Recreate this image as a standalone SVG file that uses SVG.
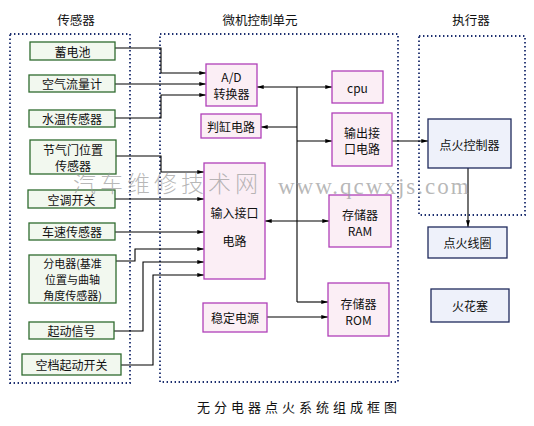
<svg xmlns="http://www.w3.org/2000/svg" width="534" height="426" viewBox="0 0 534 426">
<defs>
<marker id="ah" viewBox="0 0 10 6" refX="10" refY="3" markerWidth="7" markerHeight="4" markerUnits="userSpaceOnUse" orient="auto-start-reverse">
<path d="M0,0 L10,3 L0,6 Z" fill="#000"/>
</marker>
<style>
text{font-family:"Noto Sans CJK SC","Liberation Sans",sans-serif;font-size:12px;fill:#111;text-anchor:middle;dominant-baseline:central}
.grp{fill:none;stroke:#1b2d6e;stroke-width:1.8;stroke-dasharray:1.4 2.6}
.sen{fill:#f2f8ef;stroke:#2f6b2f;stroke-width:1.3}
.mcu{fill:#fbeef5;stroke:#b040b8;stroke-width:1.3}
.act{fill:#eef1fa;stroke:#1f2a5c;stroke-width:1.3}
.ln{fill:none;stroke:#000;stroke-width:1.1}
.ttl{font-size:12.5px}
.sm{font-size:11px}
.wm{font-family:"Liberation Serif","Noto Sans CJK SC",serif;fill:#999;fill-opacity:0.7;text-anchor:start}
</style>
</defs>
<rect width="534" height="426" fill="#fff"/>

<g id="groups">
<rect class="grp" x="10" y="34" width="120" height="349"/>
<rect class="grp" x="160" y="34" width="238" height="348"/>
<rect class="grp" x="419" y="36" width="106" height="179"/>
<text class="ttl" x="76" y="19">传感器</text>
<text class="ttl" x="260" y="19">微机控制单元</text>
<text class="ttl" x="471" y="19">执行器</text>
</g>

<g id="connectors">
<path class="ln" d="M115,48 H161 V73 H206" marker-end="url(#ah)"/>
<path class="ln" d="M115,84 H206" marker-end="url(#ah)"/>
<path class="ln" d="M115,118 H161 V95 H206" marker-end="url(#ah)"/>
<path class="ln" d="M116,156 H161 V172 H204" marker-end="url(#ah)"/>
<path class="ln" d="M115,199 H204" marker-end="url(#ah)"/>
<path class="ln" d="M115,232 H204" marker-end="url(#ah)"/>
<path class="ln" d="M116,261 H135 V249 H204" marker-end="url(#ah)"/>
<path class="ln" d="M114,331 H143 V262 H204" marker-end="url(#ah)"/>
<path class="ln" d="M121,365 H153 V275 H204" marker-end="url(#ah)"/>
<path class="ln" d="M297,87 V302"/>
<path class="ln" d="M257,87 H332" marker-start="url(#ah)" marker-end="url(#ah)"/>
<path class="ln" d="M297,127 H261" marker-end="url(#ah)"/>
<path class="ln" d="M297,141 H332" marker-end="url(#ah)"/>
<path class="ln" d="M297,302 H328" marker-end="url(#ah)"/>
<path class="ln" d="M265,221 H329" marker-start="url(#ah)" marker-end="url(#ah)"/>
<path class="ln" d="M267,317 H328" marker-end="url(#ah)"/>
<path class="ln" d="M392,141 H428" marker-end="url(#ah)"/>
<path class="ln" d="M468,168 V227" marker-end="url(#ah)"/>
</g>

<g id="n-battery"><rect class="sen" x="30" y="42" width="85" height="18"/><text x="72.5" y="51">蓄电池</text></g>
<g id="n-airflow"><rect class="sen" x="29" y="75" width="86" height="17"/><text x="72" y="83.5">空气流量计</text></g>
<g id="n-water"><rect class="sen" x="29" y="110" width="86" height="17"/><text x="72" y="118.5">水温传感器</text></g>
<g id="n-throttle"><rect class="sen" x="30" y="140" width="86" height="34"/><text x="73" y="149">节气门位置</text><text x="73" y="165.5">传感器</text></g>
<g id="n-ac"><rect class="sen" x="28" y="190" width="87" height="18"/><text x="71.5" y="199">空调开关</text></g>
<g id="n-speed"><rect class="sen" x="29" y="223" width="86" height="17"/><text x="72" y="231.5">车速传感器</text></g>
<g id="n-distributor"><rect class="sen" x="29" y="255" width="87" height="48"/><text class="sm" x="72.5" y="263">分电器(基准</text><text class="sm" x="72.5" y="279">位置与曲轴</text><text class="sm" x="72.5" y="295">角度传感器)</text></g>
<g id="n-start"><rect class="sen" x="29" y="322" width="85" height="17"/><text x="71.5" y="330.5">起动信号</text></g>
<g id="n-neutral"><rect class="sen" x="22" y="354" width="99" height="21"/><text x="71.5" y="364.5">空档起动开关</text></g>

<g id="n-ad"><rect class="mcu" x="206" y="64" width="51" height="42"/><text x="231.5" y="76">A/D</text><text x="231.5" y="93">转换器</text></g>
<g id="n-cpu"><rect class="mcu" x="332" y="71" width="51" height="32"/><text x="357.5" y="87">cpu</text></g>
<g id="n-cyl"><rect class="mcu" x="201" y="114" width="60" height="24"/><text x="231" y="126">判缸电路</text></g>
<g id="n-out"><rect class="mcu" x="332" y="113" width="60" height="53"/><text x="362" y="132">输出接</text><text x="362" y="148">口电路</text></g>
<g id="n-in"><rect class="mcu" x="204" y="163" width="61" height="116"/><text x="234.5" y="212">输入接口</text><text x="234.5" y="240">电路</text></g>
<g id="n-ram"><rect class="mcu" x="329" y="195" width="62" height="52"/><text x="360" y="214">存储器</text><text x="360" y="230">RAM</text></g>
<g id="n-rom"><rect class="mcu" x="328" y="283" width="61" height="53"/><text x="358.5" y="303">存储器</text><text x="358.5" y="319">ROM</text></g>
<g id="n-power"><rect class="mcu" x="203" y="303" width="64" height="29"/><text x="235" y="317.5">稳定电源</text></g>

<g id="n-ignctl"><rect class="act" x="428" y="119" width="83" height="49"/><text x="469.5" y="144">点火控制器</text></g>
<g id="n-coil"><rect class="act" x="428" y="227" width="79" height="31"/><text x="467.5" y="242.5">点火线圈</text></g>
<g id="n-plug"><rect class="act" x="431" y="289" width="78" height="33"/><text x="470" y="305.5">火花塞</text></g>

<text x="299" y="406" style="font-size:13px;letter-spacing:4px">无分电器点火系统组成框图</text>

<text class="wm" x="73" y="184" style="font-size:23px;letter-spacing:4px;font-weight:300">汽车维修技术网</text>
<text class="wm" x="278" y="186" style="font-size:23px;letter-spacing:2px">www.qcwxjs.com</text>
</svg>
